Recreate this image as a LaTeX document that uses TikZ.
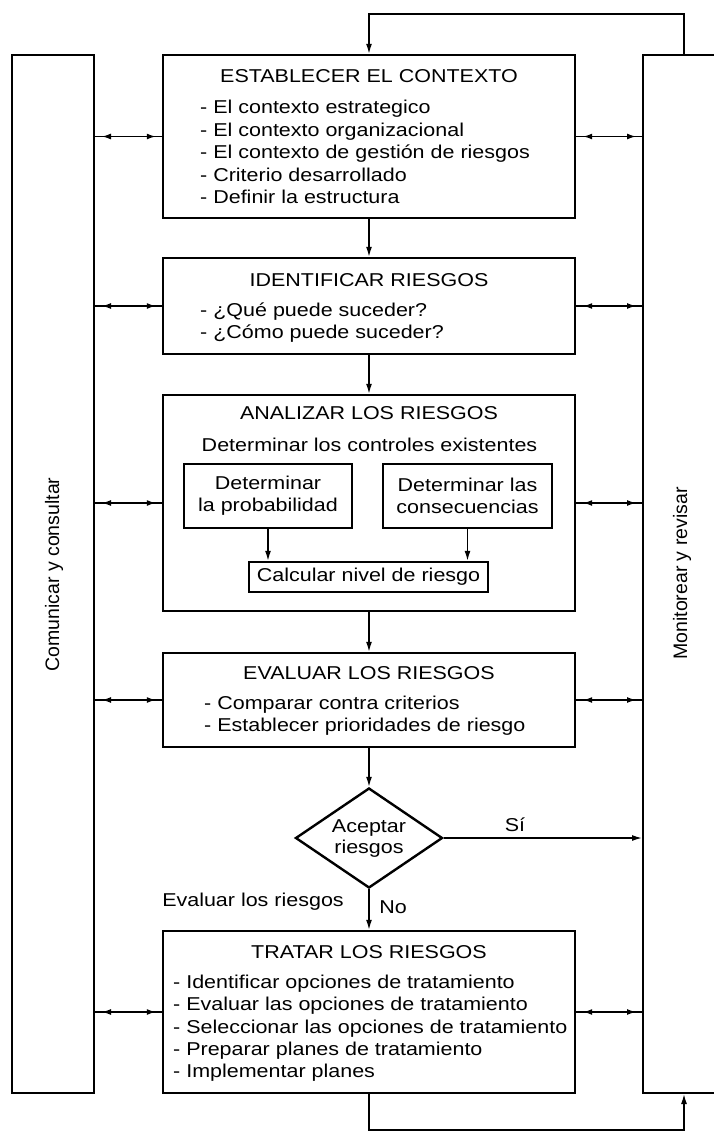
\documentclass[tikz,border=0pt]{standalone}
\usepackage{fontspec}
\setmainfont[FakeStretch=1.155]{Liberation Sans}
\newfontfamily\sidefont{Liberation Sans}
\usetikzlibrary{shapes.geometric,arrows.meta,decorations.markings,calc}
\tikzset{
  every node/.style={font=\fontsize{18.6}{22}\selectfont, inner sep=0pt},
  mainbox/.style={draw, rectangle, line width=2.4pt, minimum width=412pt},
  sidebox/.style={draw, rectangle, line width=2pt, minimum width=82pt, minimum height=1038pt},
  subbox/.style={draw, rectangle, line width=2.4pt, align=center},
  sidelabel/.style={rotate=90, font=\sidefont\fontsize{19.5}{20}\selectfont},
  conn/.style={line width=1.4pt},
  flow/.style={conn, -{Latex[length=10pt,width=6pt]}},
  twoway/.style={conn, postaction={decorate},
    decoration={markings,
      mark=at position 7pt with {\arrowreversed{Latex[length=9pt,width=6pt]}},
      mark=at position -6pt with {\arrow{Latex[length=9pt,width=6pt]}}}},
  title/.style={anchor=base},
  item/.style={anchor=base west},
}
\begin{document}
\begin{tikzpicture}[x=1pt,y=-1pt]
\fill[white] (0,0) rectangle (714,1133);
\useasboundingbox (0,0) rectangle (714,1133);

% side boxes
\node[sidebox] (lbox) at (53,574) {};
\node[sidebox] (rbox) at (684,574) {};
\node[sidelabel] (lblL) at (54,574.5) {Comunicar y consultar};
\node[sidelabel] (lblR) at (682,573.5) {Monitorear y revisar};

% ESTABLECER EL CONTEXTO
\node[mainbox, minimum height=163pt] (ctx) at (369,136.5) {};
\node[title] (ctxT) at (369,82.7) {ESTABLECER EL CONTEXTO};
\foreach \t [count=\i] in {- El contexto estrategico, - El contexto organizacional, - El contexto de gestión de riesgos, - Criterio desarrollado, - Definir la estructura}
  \node[item] (ctx-\i) at (200,{113.7+22.5*(\i-1)}) {\t};

% IDENTIFICAR RIESGOS
\node[mainbox, minimum height=96pt] (ident) at (369,306) {};
\node[title] (identT) at (369,286.7) {IDENTIFICAR RIESGOS};
\foreach \t [count=\i] in {- ¿Qué puede suceder?, - ¿Cómo puede suceder?}
  \node[item] (ident-\i) at (200,{316.7+22*(\i-1)}) {\t};

% ANALIZAR LOS RIESGOS
\node[mainbox, minimum height=216pt] (anal) at (369,503) {};
\node[title] (analT) at (369,419.7) {ANALIZAR LOS RIESGOS};
\node[title] (analS) at (369.5,451.7) {Determinar los controles existentes};
\node[subbox, minimum width=168pt, minimum height=64pt] (prob) at (268,496) {Determinar\\la probabilidad};
\node[subbox, minimum width=169pt, minimum height=64pt] (cons) at (467.5,496) {Determinar las\\consecuencias};
\node[subbox, minimum width=239pt, minimum height=30pt] (calc) at (368.5,577) {Calcular nivel de riesgo};
\draw[flow] (prob.south) -- (prob.south |- calc.north);
\draw[flow] (cons.south) -- (cons.south |- calc.north);

% EVALUAR LOS RIESGOS
\node[mainbox, minimum height=94pt] (eval) at (369,700) {};
\node[title] (evalT) at (369,679.7) {EVALUAR LOS RIESGOS};
\foreach \t [count=\i] in {- Comparar contra criterios, - Establecer prioridades de riesgo}
  \node[item] (eval-\i) at (204,{709.7+21.5*(\i-1)}) {\t};

% decision
\node[diamond, draw, line width=2.4pt, minimum width=147pt, minimum height=100pt] (dec) at (369,838) {};
\node[align=center, font=\fontsize{18.6}{21}\selectfont] (decT) at (369,839) {Aceptar\\riesgos};
\node (si) at (515,825) {Sí};
\node (no) at (393,907) {No};
\node (evl) at (253,902) {Evaluar los riesgos};

% TRATAR LOS RIESGOS
\node[mainbox, minimum height=162pt] (trat) at (369,1012) {};
\node[title] (tratT) at (369,958.7) {TRATAR LOS RIESGOS};
\foreach \t [count=\i] in {- Identificar opciones de tratamiento, - Evaluar las opciones de tratamiento, - Seleccionar las opciones de tratamiento, - Preparar planes de tratamiento, - Implementar planes}
  \node[item] (trat-\i) at (173,{988.7+22.2*(\i-1)}) {\t};

% main flow
\draw[flow] (ctx.south) -- (ident.north);
\draw[flow] (ident.south) -- (anal.north);
\draw[flow] (anal.south) -- (eval.north);
\draw[flow] (eval.south) -- (dec.north);
\draw[flow] (dec.south) -- (trat.north);
\draw[flow] (dec.east) -- (dec.east -| rbox.west);

% loops
\coordinate (tl) at (369,14);
\draw[flow] (rbox.north) |- (tl) -- (ctx.north);
\coordinate (bl) at (369,1130);
\draw[flow] (trat.south) -- (bl) -| (rbox.south);

% side connectors
\foreach \b in {ctx,ident,anal,eval,trat}{
  \draw[twoway] (lbox.east |- \b.west) -- (\b.west);
  \draw[twoway] (\b.east) -- (\b.east -| rbox.west);
}
\end{tikzpicture}
\end{document}
